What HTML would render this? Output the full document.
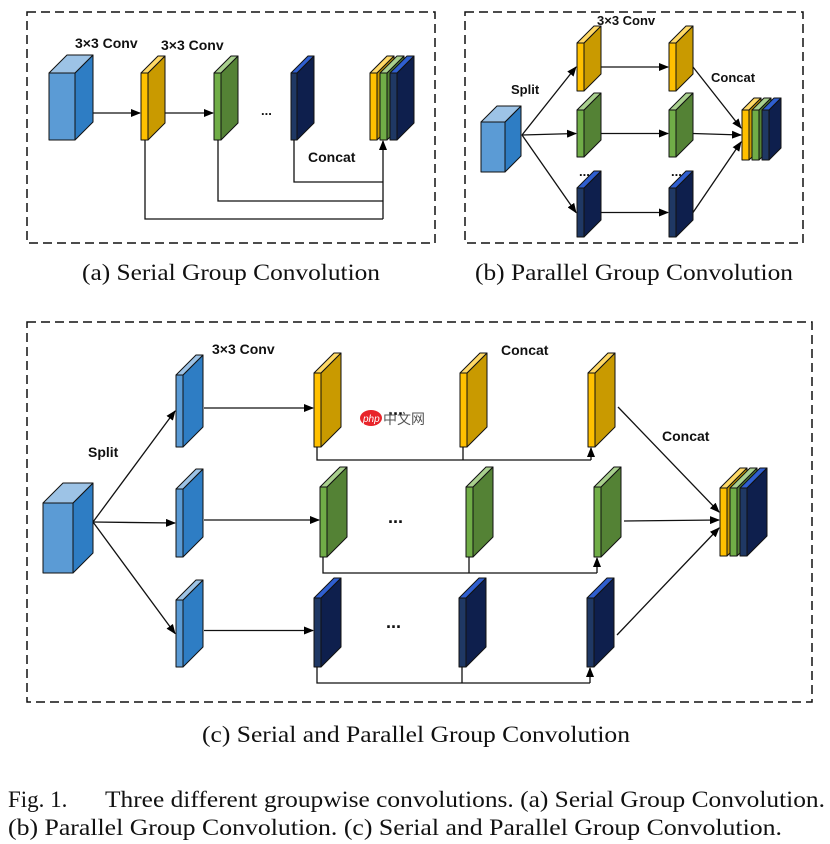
<!DOCTYPE html>
<html><head><meta charset="utf-8"><style>
body{margin:0;background:#fff;width:830px;height:844px;overflow:hidden}
svg{position:absolute;left:0;top:0}
.cap{font-family:"Liberation Serif",serif;font-size:23px;fill:#111}
.lbl{font-family:"Liberation Sans",sans-serif;font-weight:bold;font-size:13px;fill:#111}
</style></head><body>
<svg id="s" width="830" height="844" xmlns="http://www.w3.org/2000/svg">
<defs><marker id="ar" markerWidth="10" markerHeight="8" refX="9" refY="4" orient="auto" markerUnits="userSpaceOnUse"><path d="M0,0L10,4L0,8z" fill="#000"/></marker></defs>
<g fill="none" stroke="#111" stroke-width="1.5" stroke-dasharray="9,5">
<rect x="27" y="12" width="408" height="231"/>
<rect x="465" y="12" width="338" height="231"/>
<rect x="27" y="322" width="785" height="380"/>
</g>
<g id="g"></g>
<text class="cap" x="82" y="280" textLength="298" lengthAdjust="spacingAndGlyphs">(a) Serial Group Convolution</text>
<text class="cap" x="475" y="280" textLength="318" lengthAdjust="spacingAndGlyphs">(b) Parallel Group Convolution</text>
<text class="cap" x="202" y="742" textLength="428" lengthAdjust="spacingAndGlyphs">(c) Serial and Parallel Group Convolution</text>
<text class="cap" x="8" y="807">Fig. 1.</text>
<text class="cap" x="105" y="807" textLength="720" lengthAdjust="spacingAndGlyphs">Three different groupwise convolutions. (a) Serial Group Convolution.</text>
<text class="cap" x="8" y="835" textLength="774" lengthAdjust="spacingAndGlyphs">(b) Parallel Group Convolution. (c) Serial and Parallel Group Convolution.</text>
<text class="lbl" x="75" y="48" style="font-size:14px">3×3 Conv</text><text class="lbl" x="161" y="50" style="font-size:14px">3×3 Conv</text>
<text class="lbl" x="308" y="162" style="font-size:14px">Concat</text>
<text class="lbl" x="261" y="115">...</text>
<text class="lbl" x="511" y="94">Split</text>
<text class="lbl" x="597" y="25">3×3 Conv</text>
<text class="lbl" x="711" y="82">Concat</text>
<text class="lbl" x="579" y="176">...</text><text class="lbl" x="671" y="176">...</text>
<text class="lbl" x="212" y="354" style="font-size:14px">3×3 Conv</text>
<text class="lbl" x="501" y="355" style="font-size:14px">Concat</text>
<text class="lbl" x="662" y="441" style="font-size:14px">Concat</text>
<text class="lbl" x="88" y="457" style="font-size:14px">Split</text>
<text class="lbl" x="388" y="415" style="font-size:18px">...</text>
<text class="lbl" x="388" y="523" style="font-size:18px">...</text>
<text class="lbl" x="386" y="628" style="font-size:18px">...</text>
<ellipse cx="371" cy="418" rx="11" ry="8" fill="#e8242a"/>
<text x="363" y="422" style="font-family:'Liberation Sans',sans-serif;font-size:10px;font-style:italic;fill:#fff">php</text>
<text x="383" y="424" style="font-family:'Liberation Sans','Noto Sans CJK SC',sans-serif;font-size:14px;fill:#555">中文网</text>
</svg>
<script>
const C={y:['#FFC000','#C99A00','#FFD966'],g:['#70AD47','#548235','#A9D08E'],n:['#1F3864','#0E1F4D','#2F5FD0'],b:['#5B9BD5','#2E7DC4','#9DC3E6']};
let h='';
function slab(x,y,w,H,d,c){const k=C[c];
h+=`<g stroke="#111" stroke-width="1" stroke-linejoin="round">
<path d="M${x+w},${y}L${x+w+d},${y-d}L${x+w+d},${y+H-d}L${x+w},${y+H}z" fill="${k[1]}"/>
<path d="M${x},${y}L${x+d},${y-d}L${x+w+d},${y-d}L${x+w},${y}z" fill="${k[2]}"/>
<rect x="${x}" y="${y}" width="${w}" height="${H}" fill="${k[0]}"/></g>`;}
function ln(p,a){h+=`<polyline points="${p}" fill="none" stroke="#111" stroke-width="1.3" ${a?'marker-end="url(#ar)"':''}/>`;}
function stack(x,y,H,d){slab(x,y,7,H,d,'y');slab(x+10,y,7,H,d,'g');slab(x+20,y,7,H,d,'n');}
ln('75,113 140,113',1);ln('165,113 213,113',1);
ln('145,140 145,219 383,219');ln('218,140 218,201 383,201');ln('294,140 294,182 383,182');ln('383,219 383,141',1);
slab(49,73,26,67,18,'b');slab(141,73,7,67,17,'y');slab(214,73,7,67,17,'g');slab(291,73,6,67,17,'n');
stack(370,73,67,17);
const by=[[43,91],[110,157],[188,237]],cl=['y','g','n'];
for(let i=0;i<3;i++){const m=(by[i][0]+by[i][1])/2;
ln(`522,135 576,${m}`,1);ln(`601,${m} 668,${m}`,1);ln(`693,${m} 741,${i==0?128:i==1?135:142}`,1);}
slab(481,122,24,50,16,'b');
for(let i=0;i<3;i++){slab(577,by[i][0],7,by[i][1]-by[i][0],17,cl[i]);slab(669,by[i][0],7,by[i][1]-by[i][0],17,cl[i]);}
stack(742,110,50,12);
const ry=[[375,447],[489,557],[600,667]],cx=[[314,460,588],[320,466,594],[314,459,587]],ly=[460,573,683];
for(let i=0;i<3;i++){const m=(ry[i][0]+ry[i][1])/2;const X=cx[i];
ln(`93,522 175,${m}`,1);ln(`204,${m-3} ${X[0]-1},${m-3}`,1);
ln(`${X[0]+3},${ry[i][1]} ${X[0]+3},${ly[i]} ${X[2]+3},${ly[i]}`);ln(`${X[1]+3},${ry[i][1]} ${X[1]+3},${ly[i]}`);ln(`${X[2]+3},${ly[i]} ${X[2]+3},${ry[i][1]+1}`,1);
ln(`${X[2]+30},${i==0?407:i==1?521:635} 719,${i==0?512:i==1?520:528}`,1);}
slab(43,503,30,70,20,'b');
for(let i=0;i<3;i++){slab(176,ry[i][0],7,ry[i][1]-ry[i][0],20,'b');for(const x of cx[i])slab(x,ry[i][0]-2,7,ry[i][1]-ry[i][0]+2,20,cl[i]);}
stack(720,488,68,20);
document.getElementById('g').innerHTML=h;
</script>
</body></html>
